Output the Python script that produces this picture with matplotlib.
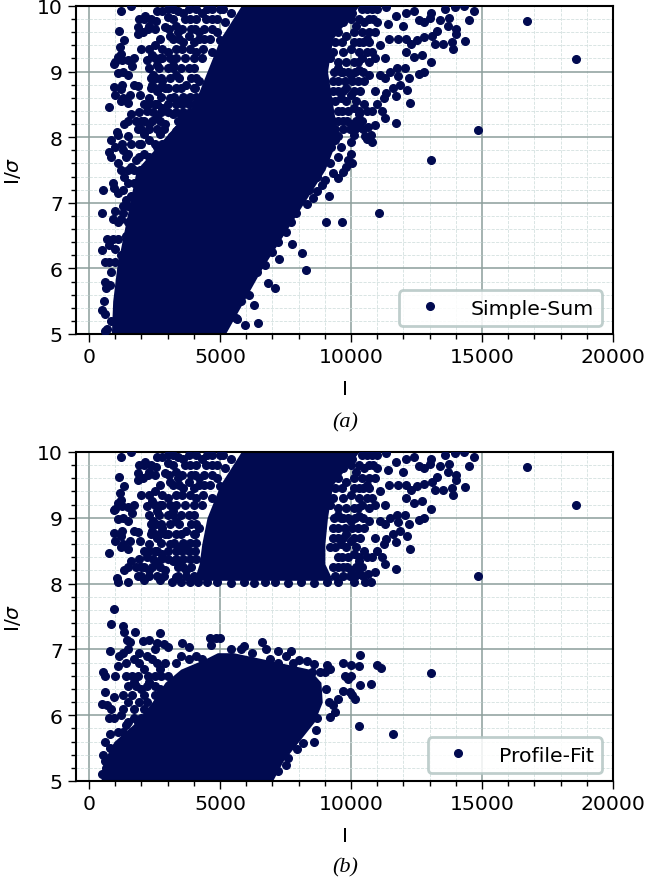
import matplotlib
matplotlib.use('Agg')
import matplotlib.pyplot as plt
import numpy as np
from matplotlib.ticker import MultipleLocator

# the thousands of overlapping points can't be read one by one, so the solid
# masses are traced as I-ranges per I/sigma level and the readable points are listed

# solid mass, panel a
core_a_snr = [5, 5.5, 6, 6.5, 7, 7.5, 8, 8.5, 9, 9.5, 10]
core_a_left = [850, 900, 1050, 1300, 1550, 1800, 2900, 4000, 4500, 5000, 5800]
core_a_right = [5200, 5900, 6600, 7400, 8200, 9000, 9500, 9300, 9100, 9300, 10300]

# solid masses, panel b
core_b_low_snr = [5, 5.3, 5.6, 5.9, 6.2, 6.5, 6.7, 6.85, 6.95]
core_b_low_left = [450, 550, 950, 1800, 2400, 2900, 3500, 4400, 4900]
core_b_low_right = [7000, 7400, 8000, 8600, 8900, 8850, 8400, 6700, 5500]
core_b_up_snr = [8.05, 8.3, 8.6, 9, 9.5, 10]
core_b_up_left = [4000, 4200, 4300, 4500, 5000, 5800]
core_b_up_right = [9300, 9000, 9000, 9100, 9300, 10300]

# points above I/sigma = 8, the same in both panels
upper_pts = [
    (1230, 9.92), (1150, 9.62), (1180, 9.38), (1350, 9.48), (1230, 9.27), (1100, 9.23), (950, 9.12),
    (1000, 9.14), (1250, 9.18), (1500, 9.17), (1700, 9.2), (1630, 9.08), (1100, 8.98), (1300, 9.0),
    (1500, 8.95), (1270, 8.8), (950, 8.77), (1200, 8.73), (1000, 8.64), (1300, 8.6), (1550, 8.65),
    (1700, 8.8), (1850, 8.78), (1950, 8.65), (1500, 8.52), (1200, 8.55), (770, 8.46), (1600, 8.35),
    (1350, 8.2), (1500, 8.25), (1050, 8.08), (1100, 8.03), (1500, 8.02),
    (1600, 10.0), (1900, 9.8), (2150, 9.85), (1850, 9.68), (2300, 9.7), (2050, 9.6), (1850, 9.58),
    (2000, 9.35), (2300, 9.35), (2500, 9.4), (2200, 9.18), (2400, 9.25), (2300, 9.05), (2450, 8.95),
    (2600, 9.1), (2800, 9.2), (3000, 9.3), (2550, 9.77), (2600, 9.93), (2800, 9.92), (3000, 9.83),
    (2900, 9.68), (3100, 9.55), (3300, 9.7), (3400, 9.92), (3600, 9.9), (3650, 9.8), (3400, 9.6),
    (3600, 9.45), (3800, 9.55), (3900, 9.65), (4000, 9.45), (4200, 9.6), (4100, 9.3), (4300, 9.2),
    (4400, 9.5), (4300, 9.9), (4500, 9.95), (4700, 9.8), (4900, 9.6), (5000, 9.48), (5200, 9.75),
    (5400, 9.9), (5000, 9.95), (4700, 9.3), (4900, 9.15), (3200, 9.1), (3300, 8.95), (3500, 9.05),
    (3800, 9.05), (3900, 8.9), (3700, 8.8), (4000, 8.75), (4200, 8.85), (2400, 8.8), (2600, 8.7),
    (2800, 8.85), (3000, 8.75), (2300, 8.6), (2500, 8.5), (2800, 8.45), (3100, 8.6), (3400, 8.55),
    (3700, 8.55), (2200, 8.4), (2000, 8.25), (1850, 8.12), (2300, 8.2), (2600, 8.3), (2900, 8.2),
    (3200, 8.35), (3500, 8.35), (3300, 8.1), (3700, 8.2), (2100, 8.05), (2700, 8.05), (3150, 8.02),
    (3500, 8.03), (3850, 8.03), (4150, 8.03), (4500, 8.02), (4900, 8.02), (5400, 8.01), (5900, 8.02),
    (6300, 8.01), (6700, 8.02), (7100, 8.02), (7600, 8.01), (8100, 8.02), (8600, 8.01), (9100, 8.02),
    (9500, 8.02), (10100, 8.03), (10550, 8.02), (10750, 8.03),
    (11350, 9.98), (11000, 9.75), (11400, 9.73), (11700, 9.85), (12000, 9.7), (12100, 9.9), (12400, 9.93),
    (12600, 9.78), (12800, 9.75), (13050, 9.9), (13000, 9.82), (13400, 9.78), (13600, 9.95), (13750, 9.82),
    (13950, 9.98), (14300, 10.0), (14700, 9.93), (14500, 9.78), (13700, 9.7), (14000, 9.65), (14000, 9.58),
    (14350, 9.47), (13850, 9.45), (13900, 9.35), (13500, 9.42), (13200, 9.42), (13300, 9.62), (13100, 9.55),
    (12800, 9.52), (12500, 9.48), (12300, 9.42), (12100, 9.3), (12400, 9.22), (12700, 9.25), (13050, 9.14),
    (12800, 9.0), (12600, 8.97), (12200, 8.9), (12050, 9.05), (11750, 9.05), (11500, 9.0), (11300, 8.9),
    (11100, 8.95), (11800, 8.94), (11600, 8.75), (11850, 8.8), (12150, 8.72), (12250, 8.52), (11350, 8.68),
    (11700, 8.63), (11250, 8.6), (10900, 8.7), (11000, 8.5), (11200, 8.4), (10800, 8.4), (10500, 8.5),
    (10300, 8.35), (10100, 8.45), (9900, 8.4), (11300, 8.3), (11700, 8.22), (10900, 8.18), (10650, 8.15),
    (9200, 9.2), (9500, 9.05), (9700, 9.0), (10000, 8.95), (10300, 9.02), (10500, 8.85), (10700, 8.95),
    (10400, 9.2), (10600, 9.3), (10900, 9.2), (10600, 9.5), (10300, 9.45), (10000, 9.35), (11100, 9.4),
    (10900, 9.6), (10500, 9.75), (10200, 9.7), (9800, 9.55), (9700, 9.75), (10050, 9.9), (10400, 9.95),
    (11450, 9.5), (11800, 9.5), (12100, 9.5), (11300, 9.2), (9500, 8.85), (9800, 8.75), (10000, 8.65),
    (9600, 8.6), (10000, 8.2), (9700, 8.25), (10300, 8.15),
    (16700, 9.77), (18600, 9.19), (14850, 8.11),
    # crowded left part
    (2000, 8.12), (2300, 8.12), (2600, 8.12), (2850, 8.12), (3400, 8.12), (3700, 8.12), (4000, 8.12),
    (1800, 8.25), (2100, 8.25), (2400, 8.25), (2700, 8.25), (3400, 8.25), (3600, 8.25), (3900, 8.25),
    (1900, 8.38), (2450, 8.38), (2750, 8.38), (3000, 8.38), (3300, 8.38), (3600, 8.38), (3850, 8.38), (4100, 8.38),
    (2100, 8.5), (2300, 8.5), (2600, 8.5), (3000, 8.5), (3300, 8.5), (3550, 8.5), (3800, 8.5), (4050, 8.5),
    (2750, 8.62), (3250, 8.62), (3600, 8.62), (3850, 8.62), (4100, 8.62),
    (2350, 8.75), (2650, 8.75), (2900, 8.75), (3300, 8.75), (3500, 8.75), (4050, 8.75),
    (2350, 8.9), (2550, 8.9), (2750, 8.9), (3100, 8.9), (3450, 8.9), (4100, 8.9),
    (2650, 9.05), (3000, 9.05), (3200, 9.05), (4000, 9.05),
    (2500, 9.2), (2700, 9.2), (3100, 9.2), (3300, 9.2), (3650, 9.2), (4000, 9.2),
    (2800, 9.35), (3300, 9.35), (3550, 9.35), (3850, 9.35), (4350, 9.35),
    (2700, 9.5), (3200, 9.5), (3450, 9.5), (4200, 9.5), (4600, 9.5),
    (2250, 9.65), (2500, 9.65), (3050, 9.65), (3550, 9.65), (4050, 9.65), (4400, 9.65), (4700, 9.65),
    (2100, 9.8), (2350, 9.8), (3200, 9.8), (3850, 9.8), (4100, 9.8), (4450, 9.8), (4900, 9.8),
    (3000, 9.95), (3200, 9.95), (3800, 9.95), (4100, 9.95), (4700, 9.95), (5100, 9.95),
    # crowded right part
    (9400, 8.12), (9700, 8.12), (9950, 8.12), (10150, 8.12), (10450, 8.12),
    (9300, 8.25), (9500, 8.25), (9850, 8.25), (10200, 8.25), (10400, 8.25),
    (9500, 8.4), (9650, 8.4), (10300, 8.4), (10600, 8.4),
    (9200, 8.55), (9400, 8.55), (9800, 8.55), (10200, 8.55),
    (9300, 8.7), (9500, 8.7), (9700, 8.7), (10100, 8.7), (10350, 8.7),
    (9300, 8.85), (9750, 8.85), (10050, 8.85), (10250, 8.85),
    (9350, 9.0), (9600, 9.0), (9900, 9.0), (10150, 9.0), (10450, 9.0),
    (9500, 9.15), (9800, 9.15), (10100, 9.15), (10250, 9.15), (10700, 9.15),
    (9300, 9.3), (9700, 9.3), (10300, 9.3), (10800, 9.3),
    (9400, 9.45), (9650, 9.45), (10100, 9.45), (10450, 9.45), (10700, 9.45),
    (9500, 9.6), (10100, 9.6), (10400, 9.6), (10700, 9.6),
    (10000, 9.8), (10300, 9.8), (10700, 9.8), (10850, 9.8),
    (10600, 9.95), (10800, 9.95), (11000, 9.95),
]

# points below I/sigma = 8, panel a
lower_a_pts = [
    (13050, 7.66), (11050, 6.85), (9050, 6.70), (9650, 6.70), (8270, 5.97), (8130, 6.24), (7750, 6.37),
    (7100, 5.70), (6820, 5.77), (6450, 5.17), (5950, 5.14), (6300, 5.44), (5650, 5.23),
    (520, 7.2), (510, 6.85), (480, 6.28), (600, 6.1), (750, 6.1), (850, 5.95), (600, 5.8), (650, 5.7),
    (800, 5.75), (550, 5.5), (480, 5.37), (620, 5.3), (850, 5.2), (600, 5.05), (700, 5.07), (850, 7.95),
    (750, 7.78), (850, 7.7), (1000, 7.85), (1100, 7.6), (1200, 7.5), (1350, 7.4), (900, 7.3), (950, 7.22),
    (1100, 7.15), (1300, 7.2), (1400, 7.05), (1500, 6.95), (1000, 6.87), (900, 6.75), (1100, 6.7),
    (1200, 6.75), (1300, 6.85), (700, 6.45), (750, 6.35), (900, 6.45), (1000, 6.3), (1100, 6.45),
    (1200, 6.2), (1400, 6.5), (1500, 6.3), (1650, 6.2), (1000, 6.1), (1600, 7.55), (1700, 7.3),
    (1800, 7.65), (1500, 7.75), (1300, 7.8), (1900, 7.9), (2100, 7.75), (2000, 7.1), (1600, 6.7),
    (2300, 7.95), (2600, 7.85), (2500, 7.65), (2800, 7.8),
    (1250, 7.9), (1600, 7.9), (2000, 7.9), (2500, 7.9), (2800, 7.9), (3050, 7.9), (1400, 7.7), (1900, 7.7),
    (2300, 7.7), (2600, 7.7), (1500, 7.5), (1700, 7.5), (1950, 7.5), (1500, 7.3), (1900, 7.3), (1600, 7.1),
    (1800, 7.1), (1300, 6.95), (1500, 6.7),
    (5600, 5.25), (5800, 5.5), (6100, 5.6), (6000, 5.75), (6400, 5.95), (6700, 6.05), (7000, 6.25),
    (7250, 6.15), (7200, 6.4), (7500, 6.55), (7700, 6.7), (7900, 6.85), (8300, 6.98), (8550, 7.08),
    (8700, 7.18), (8900, 7.27), (9150, 7.1), (9000, 7.35), (9300, 7.45), (9500, 7.38), (9700, 7.47),
    (9800, 7.55), (9900, 7.65), (10050, 7.6), (10000, 7.75), (9500, 7.7), (9250, 7.85), (9400, 7.95),
    (10000, 7.92), (10800, 7.92), (10600, 7.98), (9600, 7.85), (9200, 7.6), (8700, 7.4), (8400, 7.2),
]

# points below I/sigma = 8, panel b
lower_b_pts = [
    (950, 7.62), (820, 7.39), (1300, 7.36), (1350, 7.27), (1750, 7.27), (2700, 7.25), (800, 6.98),
    (1450, 7.15), (1550, 7.12), (2050, 7.13), (2300, 7.15), (2600, 7.1), (2850, 7.08), (3000, 7.03),
    (3550, 7.1), (3800, 7.03), (4650, 7.07), (4600, 7.18), (4850, 7.18), (5000, 7.18), (5400, 7.0),
    (5800, 7.0), (5900, 7.05), (6600, 7.12), (6750, 7.0), (7200, 6.98), (7700, 6.98), (7500, 6.9),
    (8000, 6.84), (8300, 6.82), (8600, 6.78), (9100, 6.77), (9200, 6.7), (9700, 6.8), (10000, 6.76),
    (10300, 6.75), (10350, 6.91), (11000, 6.77), (11150, 6.72), (13050, 6.64), (10350, 6.46),
    (10750, 6.48), (9750, 6.6), (10000, 6.6), (9900, 6.55), (9950, 6.35), (10150, 6.25), (10050, 6.3),
    (9700, 6.37), (9300, 6.15), (9500, 6.25), (9400, 6.05), (9200, 5.97), (8700, 5.95), (8650, 5.78),
    (8600, 5.59), (8150, 5.57), (7950, 5.48), (7600, 5.35), (7500, 5.25), (7200, 5.15), (10300, 5.83),
    (11600, 5.71), (6200, 6.95), (6900, 6.85), (7800, 6.7),
    (520, 6.66), (620, 6.6), (600, 6.35), (500, 6.17), (700, 6.15), (850, 6.1), (750, 5.95), (950, 5.95),
    (620, 5.6), (800, 5.72), (520, 5.4), (600, 5.3), (500, 5.1), (650, 5.2), (950, 6.28), (1000, 6.6),
    (1100, 6.75), (1150, 6.9), (1300, 6.95), (1500, 7.0), (1700, 6.85), (1900, 6.95), (2100, 6.7),
    (2400, 6.85), (2500, 7.0), (2200, 6.9), (1400, 6.6), (1700, 6.5), (2000, 6.4), (2300, 6.5),
    (2700, 6.7), (2900, 6.8), (3000, 6.6), (3300, 6.8), (1300, 6.3), (1500, 6.2), (1900, 6.2),
    (2200, 6.2), (2500, 6.3), (2700, 6.4), (1200, 6.0), (1400, 5.85), (1700, 5.95), (2000, 5.95),
    (1300, 5.6), (1050, 5.5), (1600, 5.7), (3500, 6.9), (3800, 6.85), (4100, 6.9), (4300, 6.85),
    (1400, 6.8), (1900, 6.8), (2600, 6.8), (1650, 6.6), (1850, 6.6), (2250, 6.6), (2500, 6.6), (2750, 6.6),
    (1500, 6.45), (1800, 6.45), (2200, 6.45), (2500, 6.45), (1650, 6.3), (2100, 6.3), (1300, 6.1), (1700, 6.1),
    (2100, 6.1), (1500, 5.9), (1850, 5.9), (1100, 5.75), (1300, 5.75), (1700, 5.75), (800, 5.5), (1000, 5.5),
    (750, 5.3), (8500, 6.65), (8800, 6.65), (9000, 6.65), (7200, 6.8), (7800, 6.8), (9050, 6.4), (9150, 6.2),
]

navy = '#010a50'
fs = 14.7


def panel(pos, core_list, pts, label):
    ax = fig.add_axes(pos)
    for snr, left, right in core_list:
        ax.fill_betweenx(snr, left, right, color=navy, lw=0, zorder=2)
    pts = np.array(pts)
    ax.plot(pts[:, 0], pts[:, 1], 'o', color=navy, ms=5.5, label=label, zorder=3)
    ax.set_xlim(-500, 20000)
    ax.set_ylim(5, 10)
    ax.xaxis.set_major_locator(MultipleLocator(5000))
    ax.xaxis.set_minor_locator(MultipleLocator(1000))
    ax.yaxis.set_major_locator(MultipleLocator(1))
    ax.yaxis.set_minor_locator(MultipleLocator(0.2))
    ax.grid(True, which='major', color='#8c9e9b', lw=1.1, zorder=0)
    ax.grid(True, which='minor', color='#d3e0df', lw=0.6, ls='--', zorder=0)
    ax.set_axisbelow(True)
    ax.tick_params(which='major', length=6, width=1, labelsize=fs)
    ax.tick_params(which='minor', length=3.5, width=1)
    for s in ax.spines.values():
        s.set_linewidth(1.5)
    ax.set_xlabel('I', fontsize=fs, labelpad=9)
    ax.set_ylabel(r'I/$\sigma$', fontsize=fs, labelpad=10)
    leg = ax.legend(loc='lower right', fontsize=fs, handletextpad=0.9, handlelength=2.2,
                    fancybox=True, edgecolor='#b4c6c4', framealpha=0.85,
                    bbox_to_anchor=(0.98, 0.025), borderaxespad=0)
    leg.get_frame().set_linewidth(2)
    return ax


fig = plt.figure(figsize=(6.45, 8.78), dpi=100)
w, h = 645, 878
panel([76 / w, 1 - 335 / h, 537 / w, 328 / h],
      [(core_a_snr, core_a_left, core_a_right)],
      upper_pts + lower_a_pts, 'Simple-Sum')
panel([76 / w, 1 - 782 / h, 537 / w, 329 / h],
      [(core_b_low_snr, core_b_low_left, core_b_low_right),
       (core_b_up_snr, core_b_up_left, core_b_up_right)],
      upper_pts + lower_b_pts, 'Profile-Fit')

fig.text(345 / w, 1 - 423 / h, '(a)', family='Liberation Serif', style='italic', fontsize=16,
         ha='center', va='center')
fig.text(345 / w, 1 - 868 / h, '(b)', family='Liberation Serif', style='italic', fontsize=16,
         ha='center', va='center')

fig.savefig('out.png', dpi=100)
